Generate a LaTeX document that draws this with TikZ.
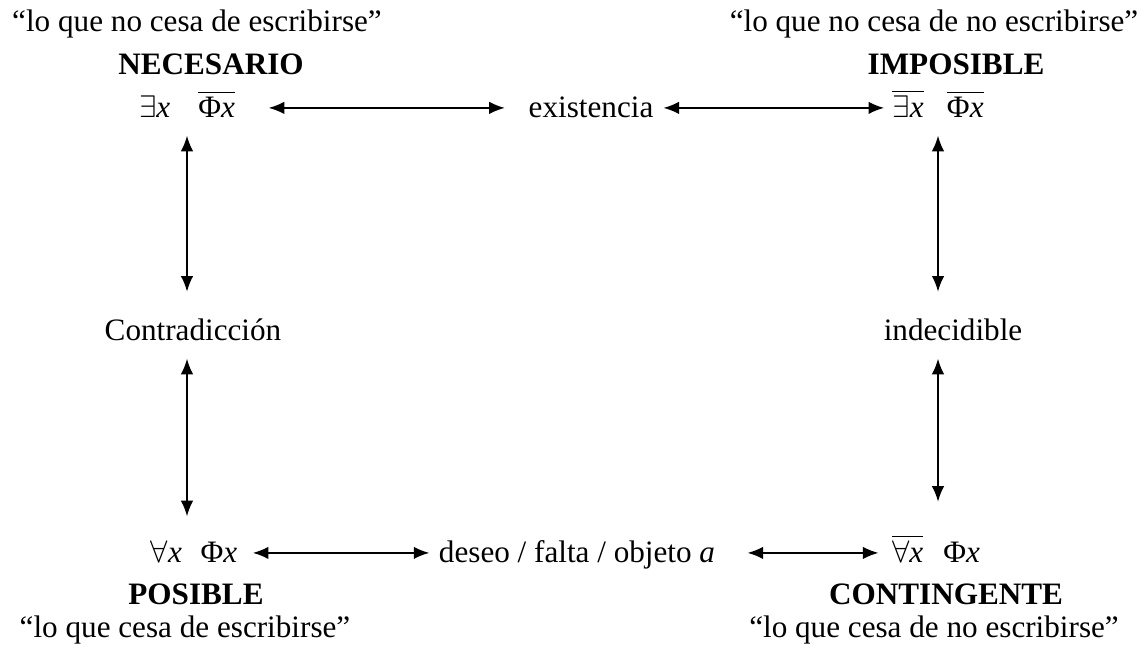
\documentclass[tikz,border=0pt]{standalone}
\usepackage{fontspec}
\setmainfont{Liberation Serif}
\usepackage{tikz}
\usetikzlibrary{arrows.meta, positioning}

\newcommand{\barra}[1]{$\overline{\hbox{#1}}$}

\begin{document}
\begin{tikzpicture}[x=0.385pt, y=-0.385pt, >={Latex[length=6pt,width=4.8pt]},
    font=\fontsize{12}{14}\selectfont]
    \useasboundingbox (0,0) rectangle (1148,647);
    \tikzset{
        txt/.style={anchor=base, inner sep=0pt},
        fml/.style={anchor=base, inner sep=0pt, text height=7pt, text depth=0pt},
        fla/.style={<->, line width=0.65pt}
    }

    % Arriba
    \node[txt] (qNE) at (197,32) {“lo que no cesa de escribirse”};
    \node[txt] (nNE) at (211,74) {\textbf{NECESARIO}};
    \node[fml] (fNE) at (187,117) {$\exists$\textit{x}\hspace{0.9em}\barra{Φ\textit{x}}};

    \node[fml] (ex) at (591,117) {existencia};

    \node[txt] (qIM) at (934,32) {“lo que no cesa de no escribirse”};
    \node[txt] (nIM) at (956,74) {\textbf{IMPOSIBLE}};
    \node[fml] (fIM) at (938,117) {\barra{$\exists$\textit{x}}\hspace{0.75em}\barra{Φ\textit{x}}};

    % Medio
    \node[fml, text height=8pt] (con) at (193,340) {Contradicción};
    \node[fml, text height=8pt] (ind) at (953,340) {indecidible};

    % Abajo
    \node[fml] (fPO) at (194,562) {$\forall$\textit{x}\hspace{0.6em}Φ\textit{x}};
    \node[txt] (nPO) at (196,604) {\textbf{POSIBLE}};
    \node[txt] (qPO) at (185,637) {“lo que cesa de escribirse”};

    \node[fml] (de) at (577,562) {deseo / falta / objeto \textit{a}};

    \node[fml] (fCO) at (936,562) {\barra{$\forall$\textit{x}}\hspace{0.65em}Φ\textit{x}};
    \node[txt] (nCO) at (946,604) {\textbf{CONTINGENTE}};
    \node[txt] (qCO) at (934,637) {“lo que cesa de no escribirse”};

    % Flechas horizontales
    \draw[fla, shorten <=12.8pt, shorten >=9pt] (fNE) -- (ex);
    \draw[fla, shorten <=3.7pt, shorten >=3pt] (ex) -- (fIM);
    \draw[fla, shorten <=5.8pt, shorten >=3.5pt] (fPO) -- (de);
    \draw[fla, shorten <=12.3pt, shorten >=5pt] (de) -- (fCO);

    % Flechas verticales
    \draw[fla, shorten <=7pt, shorten >=10.4pt] (fNE.south) -- (fNE.south |- con.north);
    \draw[fla, shorten <=7pt, shorten >=10.4pt] (fNE.south |- con.south) -- (fNE.south |- fPO.north);
    \draw[fla, shorten <=7pt, shorten >=10.4pt] (fIM.south) -- (fIM.south |- ind.north);
    \draw[fla, shorten <=7pt, shorten >=16pt] (fIM.south |- ind.south) -- (fIM.south |- fCO.north);
\end{tikzpicture}
\end{document}
